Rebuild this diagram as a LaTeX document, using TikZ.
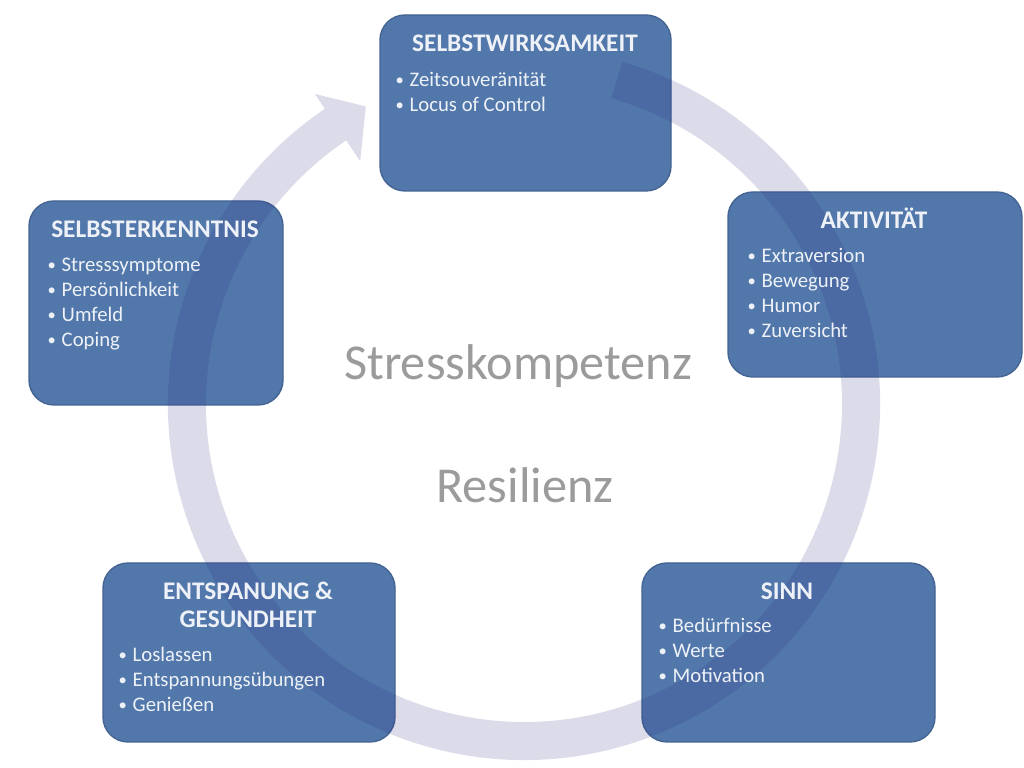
\documentclass[tikz,border=0pt]{standalone}
\usepackage{fontspec}
\setmainfont{Carlito}
\usepackage{graphicx}
\usepackage{tikz}
\definecolor{boxblue}{RGB}{82,119,170}
\definecolor{boxedge}{RGB}{68,100,147}
\definecolor{boxtext}{RGB}{238,242,248}
\definecolor{ringblue}{RGB}{42,42,132}
\definecolor{midgray}{RGB}{155,155,155}
\newcommand{\bul}{\makebox[0.14cm][l]{\raisebox{0.15ex}{\scalebox{0.8}{\textbullet}}}}

\begin{document}
\begin{tikzpicture}
        [box/.style={rectangle,rounded corners=0.25cm,fill=boxblue,draw=boxedge,line width=0.4pt,inner sep=0pt},
         head/.style={anchor=base,align=center,text=boxtext,inner sep=0pt,font=\fontsize{7.2}{8}\selectfont\bfseries},
         item/.style={anchor=base west,text=boxtext,inner sep=0pt,font=\fontsize{5.9}{7}\selectfont},
         big/.style={anchor=base,text=midgray,inner sep=0pt,font=\fontsize{14.3}{17}\selectfont}]
        \useasboundingbox[fill=white] (0,0) rectangle (10.24,7.68);

        \node[box,minimum width=2.91cm,minimum height=1.76cm] (wirk) at (5.255,6.65) {};
        \node[box,minimum width=2.54cm,minimum height=2.04cm] (erk) at (1.56,4.65) {};
        \node[box,minimum width=2.94cm,minimum height=1.85cm] (akt) at (8.75,4.835) {};
        \node[box,minimum width=2.92cm,minimum height=1.79cm] (ents) at (2.49,1.155) {};
        \node[box,minimum width=2.93cm,minimum height=1.79cm] (sinn) at (7.885,1.155) {};

        \fill[ringblue,opacity=0.17,shift={(5.24,3.64)}]
            (74:3.56) arc[start angle=74,end angle=-236,radius=3.56]
            -- (-236:3.74) -- (-242:3.37) -- (-236:2.93) -- (-236:3.18)
            arc[start angle=-236,end angle=74,radius=3.18] -- cycle;

        \node[head] (wirkT) at (5.25,7.16) {SELBSTWIRKSAMKEIT};
        \node[head] (erkT) at (1.55,5.30) {SELBSTERKENNTNIS};
        \node[head] (aktT) at (8.74,5.39) {AKTIVITÄT};
        \node[head] (entsT) at (2.48,1.40) {ENTSPANUNG \&\\GESUNDHEIT};
        \node[head] (sinnT) at (7.87,1.68) {SINN};

        \foreach \s [count=\i] in {Zeitsouveränität,Locus of Control}
            \node[item] (wirk\i) at (3.95,7.06-0.25*\i) {\bul\s};
        \foreach \s [count=\i] in {Stresssymptome,Persönlichkeit,Umfeld,Coping}
            \node[item] (erk\i) at (0.47,5.21-0.25*\i) {\bul\s};
        \foreach \s [count=\i] in {Extraversion,Bewegung,Humor,Zuversicht}
            \node[item] (akt\i) at (7.47,5.30-0.25*\i) {\bul\s};
        \foreach \s [count=\i] in {Loslassen,Entspannungsübungen,Genießen}
            \node[item] (ents\i) at (1.18,1.31-0.25*\i) {\bul\s};
        \foreach \s [count=\i] in {Bedürfnisse,Werte,Motivation}
            \node[item] (sinn\i) at (6.58,1.60-0.25*\i) {\bul\s};

        \node[big] (stress) at (5.18,3.88) {Stresskompetenz};
        \node[big] (resil) at (5.25,2.65) {Resilienz};
    \end{tikzpicture}
\end{document}
